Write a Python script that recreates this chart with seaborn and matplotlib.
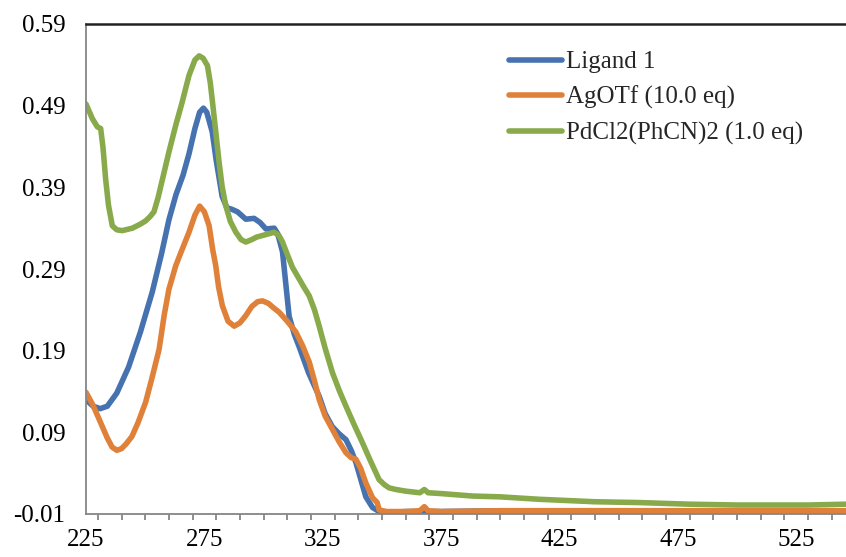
import numpy as np
import pandas as pd
import matplotlib
matplotlib.use("Agg")
import matplotlib.pyplot as plt
import seaborn as sns
from matplotlib.ticker import MultipleLocator, FixedLocator

series_names = ["Ligand 1", "AgOTf (10.0 eq)", "PdCl2(PhCN)2 (1.0 eq)"]
colors = ["#4672B0", "#E0813A", "#88AA4A"]

ligand_x = [225, 228, 231, 234, 238, 243, 248, 253, 257, 260, 263, 266, 268.5, 271, 273, 274.6, 276,
            278.3, 280, 282.5, 284.5, 286.7, 289, 292.5, 296, 298.5, 301, 304.5, 306, 308, 310.8, 313,
            315, 319, 323.5, 326, 329, 332, 334.8, 337, 339, 341, 343.2, 346, 348.8, 352, 360, 375,
            400, 450, 500, 546]
ligand_y = [0.130, 0.122, 0.119, 0.122, 0.138, 0.170, 0.213, 0.262, 0.310, 0.350, 0.381, 0.405, 0.431,
            0.462, 0.482, 0.487, 0.482, 0.458, 0.423, 0.379, 0.365, 0.363, 0.360, 0.351, 0.352, 0.347,
            0.339, 0.340, 0.333, 0.311, 0.232, 0.210, 0.195, 0.163, 0.134, 0.113, 0.097, 0.088, 0.081,
            0.068, 0.053, 0.033, 0.011, -0.002, -0.007, -0.008, -0.007, -0.007, -0.006, -0.006, -0.006,
            -0.006]

agotf_x = [225, 228, 231, 234, 236, 238, 240, 242, 244.4, 247, 250.2, 253, 255.9, 258, 260, 262.9,
           265.6, 268.5, 271, 273, 275, 277, 278.5, 279.8, 281, 282.6, 285, 287.6, 290, 292.5, 295,
           297.5, 299.5, 302, 304, 306.6, 310, 313.6, 316.5, 319.3, 321.5, 323.5, 326, 329, 332, 334.8,
           337, 339, 341, 343.2, 346, 348, 348.8, 352, 360, 366, 367.9, 369.5, 375, 400, 450, 500, 546]
agotf_y = [0.139, 0.123, 0.103, 0.083, 0.072, 0.068, 0.070, 0.076, 0.085, 0.102, 0.127, 0.158, 0.192,
           0.233, 0.265, 0.294, 0.314, 0.335, 0.356, 0.367, 0.360, 0.343, 0.314, 0.294, 0.268, 0.245,
           0.226, 0.220, 0.224, 0.233, 0.244, 0.250, 0.251, 0.248, 0.243, 0.237, 0.226, 0.213, 0.196,
           0.176, 0.153, 0.130, 0.110, 0.094, 0.078, 0.065, 0.059, 0.057, 0.046, 0.028, 0.010, 0.004,
           -0.005, -0.007, -0.007, -0.006, -0.001, -0.006, -0.007, -0.006, -0.006, -0.006, -0.006]

pdcl_x = [225, 227.7, 229.8, 231.2, 232.2, 233.3, 234.5, 236.1, 238, 240.3, 244.6, 248, 250.2, 252,
          253.7, 255.5, 257.3, 260, 262.9, 265.5, 268.5, 271, 272.8, 274.5, 276.3, 277.5, 278.4, 280,
          281.2, 282.5, 284, 286, 288.3, 290.5, 292.5, 295, 297, 299.5, 302, 304.5, 306.5, 308, 310,
          312.2, 315, 317, 319.3, 321.5, 323.5, 326, 329.1, 332, 334.8, 338, 341.8, 345, 348.8, 351,
          353, 355.9, 360, 366, 367.9, 369.5, 375, 388.2, 400, 416.5, 440, 458.7, 480, 500, 515, 530,
          546]
pdcl_y = [0.492, 0.474, 0.464, 0.462, 0.438, 0.400, 0.368, 0.343, 0.338, 0.337, 0.340, 0.345, 0.349,
          0.354, 0.360, 0.378, 0.400, 0.433, 0.466, 0.493, 0.527, 0.546, 0.551, 0.548, 0.539, 0.518,
          0.495, 0.453, 0.421, 0.391, 0.368, 0.348, 0.335, 0.326, 0.323, 0.326, 0.329, 0.331, 0.333,
          0.335, 0.331, 0.323, 0.308, 0.292, 0.278, 0.268, 0.257, 0.240, 0.220, 0.193, 0.163, 0.141,
          0.122, 0.101, 0.077, 0.056, 0.032, 0.026, 0.022, 0.020, 0.018, 0.016, 0.020, 0.016, 0.015,
          0.012, 0.011, 0.008, 0.005, 0.004, 0.002, 0.001, 0.001, 0.001, 0.002]

y_ticks = [-0.01, 0.09, 0.19, 0.29, 0.39, 0.49, 0.59]
x_ticks = [225, 275, 325, 375, 425, 475, 525]

frames = []
for name, xs, ys in [(series_names[0], ligand_x, ligand_y),
                     (series_names[1], agotf_x, agotf_y),
                     (series_names[2], pdcl_x, pdcl_y)]:
    frames.append(pd.DataFrame({"wavelength": xs, "absorbance": ys, "series": name}))
df = pd.concat(frames, ignore_index=True)

sns.set_style("white")
plt.rcParams["font.family"] = ["Liberation Serif", "DejaVu Serif"]

fig = plt.figure(figsize=(8.46, 5.57), dpi=100)
ax = fig.add_axes([86 / 846, 43 / 557, 760 / 846, 490 / 557])

sns.lineplot(data=df, x="wavelength", y="absorbance", hue="series", hue_order=series_names,
             palette=colors, linewidth=4.0, sort=False, estimator=None, ax=ax,
             solid_joinstyle="round", solid_capstyle="round")

ax.set_xlim(225, 546)
ax.set_ylim(-0.01, 0.59)
ax.set_xlabel("")
ax.set_ylabel("")

ax.yaxis.set_major_locator(FixedLocator(y_ticks))
ax.set_yticklabels([f"{v:.2f}" for v in y_ticks])
ax.xaxis.set_major_locator(FixedLocator(x_ticks))
ax.set_xticklabels([str(v) for v in x_ticks])
ax.xaxis.set_minor_locator(MultipleLocator(10))

gray = "#868686"
ax.tick_params(axis="both", which="major", labelsize=18, colors=gray, labelcolor="black",
               direction="out", width=1.3)
ax.tick_params(axis="y", which="major", length=6, pad=9)
ax.tick_params(axis="x", which="major", length=6.5, pad=4)
ax.tick_params(axis="x", which="minor", length=4.3, width=1.3, colors=gray, bottom=True)

for s in ["left", "bottom"]:
    ax.spines[s].set_color(gray)
    ax.spines[s].set_linewidth(1.3)
ax.spines["right"].set_visible(False)
ax.spines["top"].set_color("#222222")
ax.spines["top"].set_linewidth(1.8)

leg = ax.legend(loc="upper left", bbox_to_anchor=(0.557, 0.945), frameon=False, fontsize=18,
                handlelength=2.1, handletextpad=0.15, labelspacing=0.5, borderpad=0, borderaxespad=0)
for line in leg.get_lines():
    line.set_linewidth(4.0)
    line.set_solid_capstyle("round")

fig.savefig("out.png", dpi=100)
